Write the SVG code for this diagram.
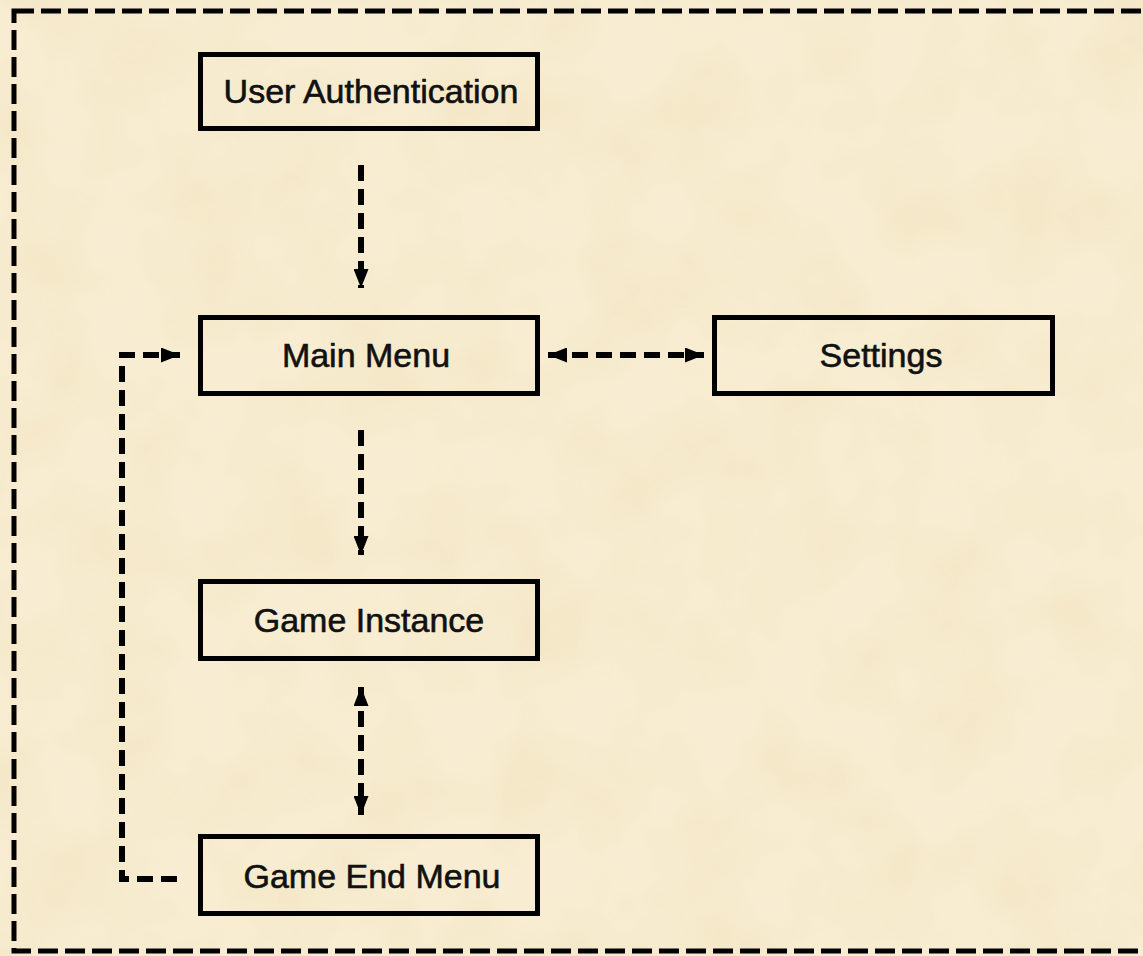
<svg xmlns="http://www.w3.org/2000/svg" width="1143" height="956" viewBox="0 0 1143 956">
  <defs>
    <style>
      .box { fill: none; stroke: #000; stroke-width: 5; }
      .label { font-family: "Liberation Sans", Arial, Helvetica, sans-serif; font-size: 34px; fill: #111; stroke: #111; stroke-width: 0.6; text-anchor: middle; }
      .conn { fill: none; stroke: #000; stroke-width: 6; stroke-dasharray: 16 8; }
      .frame { fill: none; stroke: #000; stroke-width: 5; stroke-dasharray: 20 7; }
    </style>
    <marker id="ah" viewBox="0 0 19 15" refX="19" refY="7.5" markerWidth="19" markerHeight="15" markerUnits="userSpaceOnUse" orient="auto-start-reverse">
      <path d="M0,0 L19,7.5 L0,15 Z" fill="#000"/>
    </marker>
    <filter id="paper" x="0" y="0" width="100%" height="100%">
      <feTurbulence type="fractalNoise" baseFrequency="0.012" numOctaves="3" seed="7" result="n"/>
      <feColorMatrix type="matrix" values="0 0 0 0 0.85  0 0 0 0 0.72  0 0 0 0 0.45  0 0 0 1.6 -0.55" result="c"/>
      <feComposite in="c" in2="SourceGraphic" operator="in"/>
    </filter>
  </defs>

  <rect x="0" y="0" width="1143" height="956" fill="#f8edd2"/>
  <rect x="0" y="0" width="1143" height="956" fill="#f8edd2" filter="url(#paper)" opacity="0.4"/>

  <rect class="frame" x="14" y="11" width="1145" height="940"/>

  <g id="connectors">
    <line class="conn" x1="361" y1="165" x2="361" y2="288" marker-end="url(#ah)"/>
    <line class="conn" x1="361" y1="430" x2="361" y2="555" marker-end="url(#ah)"/>
    <line class="conn" x1="361" y1="687" x2="361" y2="815" marker-start="url(#ah)" marker-end="url(#ah)"/>
    <line class="conn" x1="548" y1="355" x2="704" y2="355" marker-start="url(#ah)" marker-end="url(#ah)"/>
    <path class="conn" d="M177,879 L122,879 L122,355 L180,355" marker-end="url(#ah)"/>
  </g>

  <g id="node-user-auth">
    <rect class="box" x="200.5" y="54.5" width="337" height="74"/>
    <text class="label" x="371" y="103">User Authentication</text>
  </g>
  <g id="node-main-menu">
    <rect class="box" x="200.5" y="317.5" width="337" height="76"/>
    <text class="label" x="366" y="367">Main Menu</text>
  </g>
  <g id="node-settings">
    <rect class="box" x="714.5" y="317.5" width="338" height="76"/>
    <text class="label" x="881" y="367">Settings</text>
  </g>
  <g id="node-game-instance">
    <rect class="box" x="200.5" y="581.5" width="337" height="77"/>
    <text class="label" x="369" y="632">Game Instance</text>
  </g>
  <g id="node-game-end-menu">
    <rect class="box" x="200.5" y="836.5" width="337" height="77"/>
    <text class="label" x="372" y="888">Game End Menu</text>
  </g>
</svg>
